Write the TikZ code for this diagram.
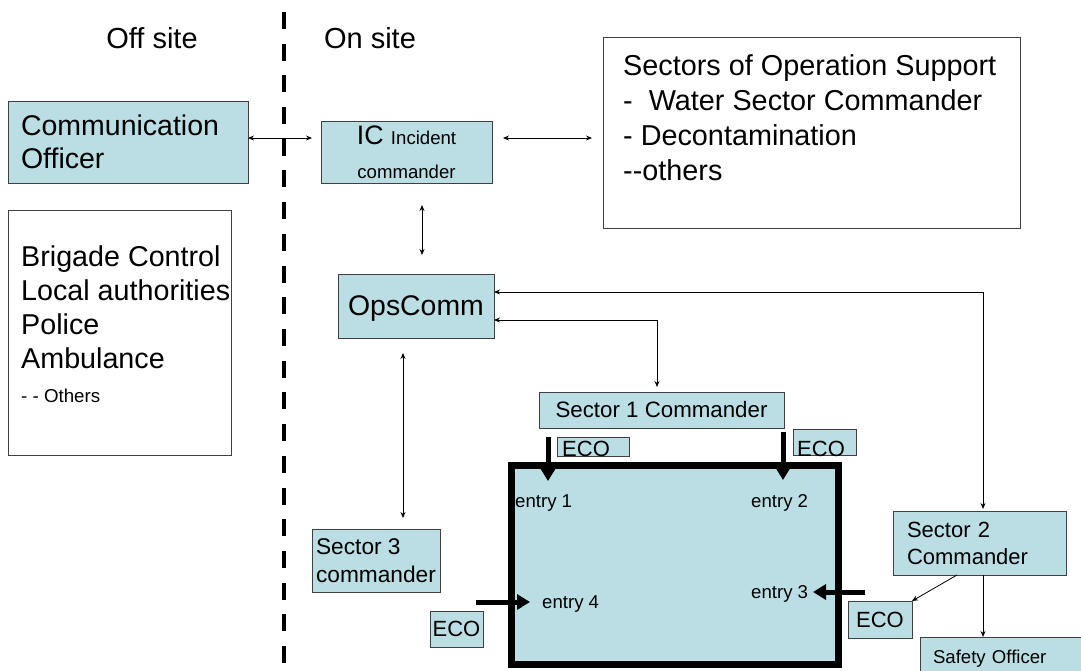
\documentclass[tikz,border=0pt]{standalone}
\usepackage{fontspec}
\setmainfont{Liberation Sans}
\usetikzlibrary{arrows.meta}

\begin{document}
\begin{tikzpicture}[
    x=1pt,
    y=-1pt,
    panel/.style={
        draw=edgegray,
        fill=panelblue,
        line width=0.9pt,
        inner sep=0pt,
        outer sep=0pt
      },
    blank/.style={
        panel,
        fill=white
      },
    bigtext/.style={
        font=\fontsize{28.7}{34}\selectfont,
        inner sep=0pt
      },
    ecotext/.style={
        font=\fontsize{22}{26}\selectfont,
        inner sep=0pt
      },
    smalltext/.style={
        font=\fontsize{18.6}{22}\selectfont,
        inner sep=0pt
      },
    link/.style={
        line width=0.8pt,
        {Stealth[length=6pt,width=5pt]}-{Stealth[length=6pt,width=5pt]}
      },
    onelink/.style={
        line width=0.8pt,
        -{Stealth[length=6pt,width=5pt]}
      },
    push/.style={
        line width=5pt,
        -{Triangle[length=13pt,width=15pt]}
      },
    divider/.style={
        line width=4.5pt,
        dash pattern=on 17pt off 14.7pt
      }]
    % Define colors
    \definecolor{panelblue}{RGB}{186,222,227} % light blue
    \definecolor{edgegray}{RGB}{64,64,64}

    % Fix the page
    \useasboundingbox (0,0) rectangle (1081,671);

    % Draw divider and headings
    \coordinate (divtop) at (284,12);
    \coordinate (divbot) at (284,665);
    \draw[divider] (divtop) -- (divbot);
    \node[bigtext, font=\fontsize{29}{33}\selectfont, anchor=base] (offsite) at (152,49) {Off site};
    \node[bigtext, font=\fontsize{29}{33}\selectfont, anchor=base] (onsite) at (370,49) {On site};

    % Draw off site boxes
    \node[panel, minimum width=240pt, minimum height=82pt, text width=214pt, inner xsep=13pt,
      font=\fontsize{28.5}{33}\selectfont] (comm) at (128,142) {Communication\\Officer};
    \node[blank, minimum width=223pt, minimum height=245pt] (brigade) at (119.5,332.5) {};
    \node[bigtext, align=left, anchor=north west] (brigadelist) at (21,246)
      {Brigade Control\\Local authorities\\Police\\Ambulance\\{\fontsize{18.7}{22}\selectfont - - Others}};

    % Draw on site boxes
    \node[panel, minimum width=171pt, minimum height=62pt, align=center,
      font=\fontsize{18.6}{34}\selectfont] (ic) at (406.5,152)
      {{\fontsize{26.7}{34}\selectfont IC }Incident\\commander};
    \node[blank, minimum width=417pt, minimum height=191pt] (sectors) at (811.5,133) {};
    \node[bigtext, font=\fontsize{28.8}{35}\selectfont, align=left, anchor=north west] (sectorlist) at (623,54)
      {Sectors of Operation Support\\-\ \ Water Sector Commander\\- Decontamination\\-{}-others};
    \node[panel, minimum width=156pt, minimum height=64pt, text depth=0pt,
      font=\fontsize{28.4}{34}\selectfont] (ops) at (416,306) {OpsComm};
    \node[panel, minimum width=245pt, minimum height=36pt,
      font=\fontsize{22.3}{27}\selectfont] (sec1) at (661.5,410) {Sector 1 Commander};
    \node[panel, minimum width=128pt, minimum height=63pt, align=left,
      font=\fontsize{22.7}{28}\selectfont] (sec3) at (376,560.5) {Sector 3\\commander};
    \node[panel, minimum width=173pt, minimum height=64pt, text width=145pt, inner xsep=14pt,
      font=\fontsize{22}{27}\selectfont] (sec2) at (979.5,543) {Sector 2\\Commander};
    \node[panel, minimum width=170pt, minimum height=43pt, text width=144pt, inner xsep=13pt,
      font=\fontsize{18.6}{22}\selectfont] (safety) at (1005,658.5) {Safety Officer};

    % Draw the site and its entries
    \node[draw=black, fill=panelblue, line width=7pt, minimum width=327pt, minimum height=199pt,
      inner sep=0pt] (site) at (675,565) {};
    \node[smalltext, anchor=base west] (entry1) at (515,507) {entry 1};
    \node[smalltext, anchor=base west] (entry2) at (751,507) {entry 2};
    \node[smalltext, anchor=base west] (entry3) at (751,598) {entry 3};
    \node[smalltext, anchor=base west] (entry4) at (542,608) {entry 4};

    % Draw ECO boxes
    \node[panel, minimum width=72pt, minimum height=19pt] (eco1) at (593,446.5) {};
    \node[ecotext, anchor=base west] (eco1tag) at (562,456) {ECO};
    \node[panel, minimum width=63pt, minimum height=26pt] (eco2) at (824.5,442) {};
    \node[ecotext, anchor=base west] (eco2tag) at (797,456) {ECO};
    \node[panel, ecotext, minimum width=64pt, minimum height=37pt] (eco3) at (880,619.5) {ECO};
    \node[panel, ecotext, minimum width=53pt, minimum height=36pt] (eco4) at (456.5,629) {ECO};

    % Draw thick entry arrows
    \coordinate (gate1) at (548,437);
    \coordinate (door1) at (548,481);
    \coordinate (gate2) at (783,432);
    \coordinate (door2) at (783,480);
    \coordinate (gate3) at (865,592);
    \coordinate (door3) at (813,592);
    \coordinate (gate4) at (476,602);
    \coordinate (door4) at (530,602);
    \draw[push] (gate1) -- (door1);
    \draw[push] (gate2) -- (door2);
    \draw[push] (gate3) -- (door3);
    \draw[push] (gate4) -- (door4);

    % Draw links
    \draw[link] ([yshift=4pt]comm.east) -- ([xshift=-9pt,yshift=14pt]ic.west);
    \draw[link] ([xshift=11pt,yshift=14pt]ic.east) -- ([xshift=-11pt,yshift=-5pt]sectors.west);
    \draw[link] ([xshift=15.5pt,yshift=-22pt]ic.south) -- ([xshift=6pt,yshift=19pt]ops.north);
    \draw[link] ([yshift=14pt]ops.east) -| ([xshift=3.5pt,yshift=2pt]sec2.north);
    \draw[link] ([yshift=-14pt]ops.east) -| ([xshift=-4.5pt,yshift=5pt]sec1.north);
    \draw[link] ([xshift=-13pt,yshift=-15pt]ops.south) -- ([xshift=27pt,yshift=11pt]sec3.north);
    \draw[onelink] ([xshift=-22.5pt]sec2.south) -- (eco3.north east);
    \draw[onelink] ([xshift=3.5pt]sec2.south) -- ([xshift=3.5pt]sec2.south |- safety.north);
\end{tikzpicture}
\end{document}
